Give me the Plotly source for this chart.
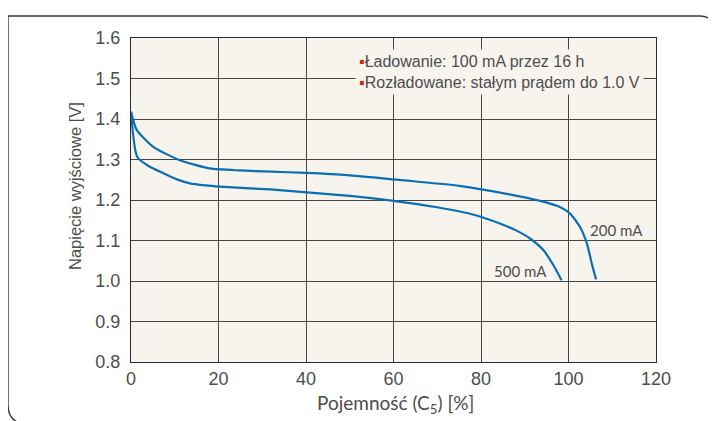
import plotly.graph_objects as go

# ---- data ----
cap_200 = [0, 1.3, 5, 11, 18, 25, 32, 40, 50, 62, 75, 85, 93.5, 97.5, 100.3, 102.6, 104.2, 105.3, 106.3]
volt_200 = [1.418, 1.373, 1.332, 1.299, 1.278, 1.273, 1.270, 1.267, 1.261, 1.249, 1.235, 1.217, 1.198, 1.185, 1.167, 1.134, 1.093, 1.044, 1.004]

cap_500 = [0, 1.4, 4, 7.4, 10.5, 13.5, 17, 20.3, 31.8, 40.2, 50, 60, 70, 78.6, 84.3, 88, 91.2, 94.2, 96.5, 98.4]
volt_500 = [1.418, 1.307, 1.284, 1.266, 1.251, 1.241, 1.236, 1.233, 1.226, 1.219, 1.210, 1.198, 1.182, 1.163, 1.142, 1.125, 1.105, 1.077, 1.040, 1.002]

x_ticks = [0, 20, 40, 60, 80, 100, 120]
y_ticks = [0.8, 0.9, 1.0, 1.1, 1.2, 1.3, 1.4, 1.5, 1.6]
y_tick_labels = ["0.8", "0.9", "1.0", "1.1", "1.2", "1.3", "1.4", "1.5", "1.6"]

legend_lines = ["Ładowanie: 100 mA przez 16 h", "Rozładowane: stałym prądem do 1.0 V"]
series_labels = ["200 mA", "500 mA"]

# ---- layout geometry ----
# the page renders the figure with an 8px body offset, so the figure is
# shrunk by that amount and all reference pixel positions are shifted.
OFF = 8
W, H = 716 - OFF, 421 - OFF
PL, PR, PT, PB = 131, 656, 38, 362          # plot box in reference pixels
L, R, T = PL - OFF, 716 - PR, PT - OFF
B = H - (PB - OFF)
PW, PH = W - L - R, H - T - B


def px(xp):
    return (xp - OFF - L) / PW


def py(yp):
    return (H - B - (yp - OFF)) / PH


BLUE = "#0a6fb5"
GRID = "#454545"
TEXT = "#4d4d4d"
PLOT_BG = "#f7f4ee"
SANS = "Liberation Sans, Arial, sans-serif"

fig = go.Figure()
fig.add_trace(go.Scatter(x=cap_200, y=volt_200, mode="lines",
                         line=dict(color=BLUE, width=2.2, shape="spline", smoothing=0.6),
                         name=series_labels[0], showlegend=False))
fig.add_trace(go.Scatter(x=cap_500, y=volt_500, mode="lines",
                         line=dict(color=BLUE, width=2.2, shape="spline", smoothing=0.6),
                         name=series_labels[1], showlegend=False))

fig.update_layout(
    width=W, height=H,
    margin=dict(l=L, r=R, t=T, b=B, pad=0),
    paper_bgcolor="white",
    plot_bgcolor=PLOT_BG,
    font=dict(family=SANS, size=18, color=TEXT),
    xaxis=dict(range=[0, 120], tickvals=x_ticks, ticktext=[str(v) for v in x_ticks],
               showgrid=True, gridcolor=GRID, gridwidth=1,
               showline=True, linecolor="#2a2a2a", linewidth=1.3, mirror=True,
               zeroline=False, ticks="", ticklabelstandoff=0,
               tickfont=dict(family=SANS, size=18, color=TEXT)),
    yaxis=dict(range=[0.8, 1.6], tickvals=y_ticks, ticktext=y_tick_labels,
               showgrid=True, gridcolor=GRID, gridwidth=1,
               showline=True, linecolor="#2a2a2a", linewidth=1.3, mirror=True,
               zeroline=False, ticks="", ticklabelstandoff=6,
               tickfont=dict(family=SANS, size=18, color=TEXT)),
)

# axis titles
fig.add_annotation(xref="paper", yref="paper", x=px(75), y=py(186),
                   xanchor="center", yanchor="middle",
                   text="Napięcie wyjściowe [V]", textangle=-90, showarrow=False,
                   font=dict(family=SANS, size=16.5, color=TEXT))
fig.add_annotation(xref="paper", yref="paper", x=px(395), y=py(404),
                   xanchor="center", yanchor="middle",
                   text="Pojemność (C<sub>5</sub>) [%]", showarrow=False,
                   font=dict(family="Lato, sans-serif", size=19, color=TEXT))

# legend box
sq = "<span style='color:#e02020'>▪</span>"
fig.add_annotation(xref="paper", yref="paper", x=px(355), y=py(71.5),
                   xanchor="left", yanchor="middle", align="left",
                   text=sq + legend_lines[0] + "<br>" + sq + legend_lines[1],
                   showarrow=False, bgcolor=PLOT_BG, borderpad=3,
                   font=dict(family=SANS, size=16, color=TEXT))

# curve labels
fig.add_annotation(x=111, y=1.126, text=series_labels[0], showarrow=False,
                   xanchor="center", yanchor="middle",
                   font=dict(family="Lato, sans-serif", size=15, color=TEXT))
fig.add_annotation(x=89.1, y=1.025, text=series_labels[1], showarrow=False,
                   xanchor="center", yanchor="middle",
                   font=dict(family="Lato, sans-serif", size=15, color=TEXT))

# outer rounded frame
path = (f"M {px(22)},{py(424)} Q {px(8)},{py(420)} {px(8)},{py(405)} "
        f"L {px(8)},{py(16)} L {px(700)},{py(16)} "
        f"Q {px(716)},{py(17)} {px(719)},{py(32)} L {px(719)},{py(424)}")
fig.add_shape(type="path", xref="paper", yref="paper", path=path,
              line=dict(color="#3a3a3a", width=1.4), layer="above")

fig.write_html("out.html")
